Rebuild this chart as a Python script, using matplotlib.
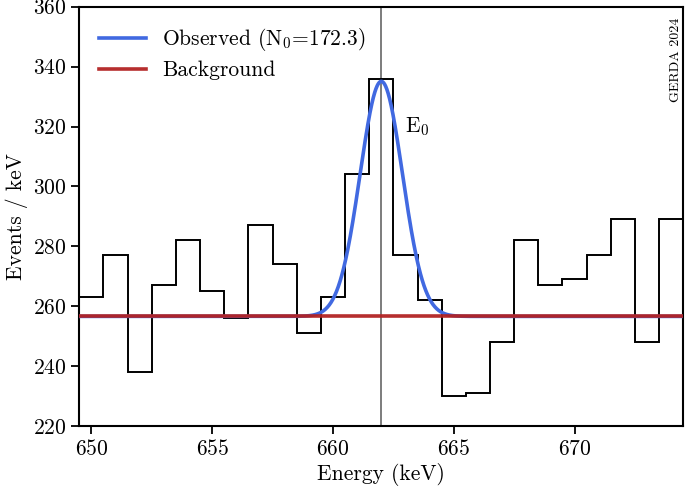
import numpy as np
import matplotlib
matplotlib.use("Agg")
import matplotlib.pyplot as plt

plt.rcParams['font.family'] = 'serif'
plt.rcParams['font.serif'] = ['cmr10']
plt.rcParams['mathtext.fontset'] = 'cm'
plt.rcParams['axes.formatter.use_mathtext'] = True

# Data
bin_centers = list(range(650, 675))
counts = [263, 277, 238, 267, 282, 265, 256, 287, 274, 251, 263, 304, 336,
          277, 262, 230, 231, 248, 282, 267, 269, 277, 289, 248, 289]
bin_width = 1.0
N0 = 172.3
E0 = 662.0
sigma = 0.876
background = 256.6

FS = 15.5

fig = plt.figure(figsize=(6.85, 4.93), dpi=100)
ax = fig.add_axes([0.1158, 0.1359, 0.8817, 0.8505])

edges = np.append(np.array(bin_centers) - bin_width / 2, bin_centers[-1] + bin_width / 2)
ax.stairs(counts, edges, color='black', lw=1.4, zorder=2)

x = np.linspace(edges[0], edges[-1], 2000)
model = background + N0 * bin_width / (np.sqrt(2 * np.pi) * sigma) * np.exp(-0.5 * ((x - E0) / sigma) ** 2)
ax.plot(x, model, color='#4169E1', lw=2.6, label=r'Observed (N$_0$=172.3)', zorder=3)
ax.axhline(background, color='#B22222', lw=2.6, label='Background', zorder=4, alpha=0.95)
ax.axvline(E0, color='#666666', lw=1.2, zorder=1)

ax.text(E0 + 1.0, 320, r'E$_0$', fontsize=FS, va='center', ha='left')
ax.text(0.998, 0.975, 'GERDA 2024', transform=ax.transAxes, rotation=90,
        fontsize=10, ha='right', va='top')

ax.set_xlim(edges[0], edges[-1])
ax.set_ylim(220, 360)
ax.set_xticks([650, 655, 660, 665, 670])
ax.set_yticks(range(220, 361, 20))
ax.tick_params(direction='out', length=6, width=1.3, labelsize=FS)
for s in ax.spines.values():
    s.set_linewidth(1.5)
ax.set_xlabel('Energy (keV)', fontsize=FS, labelpad=3)
ax.set_ylabel('Events / keV', fontsize=FS, labelpad=3)

leg = ax.legend(loc='upper left', frameon=False, fontsize=FS, handlelength=2.2,
                borderaxespad=0.5, labelspacing=0.35, handletextpad=0.75)

fig.savefig('out.png', dpi=100)
